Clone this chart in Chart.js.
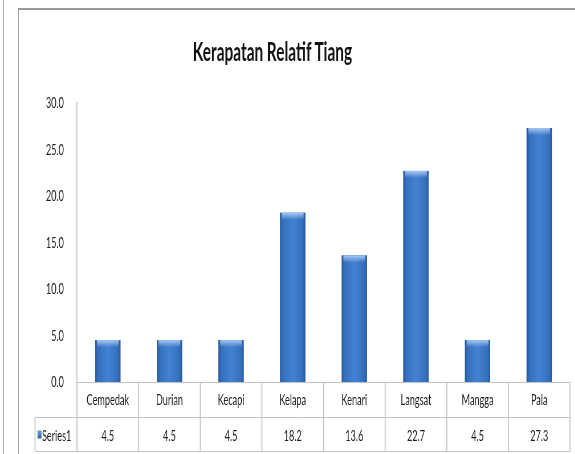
<!DOCTYPE html>
<html><head><meta charset="utf-8">
<script src="https://cdn.jsdelivr.net/npm/chart.js@4/dist/chart.umd.min.js"></script>
<style>
html,body{margin:0;padding:0;background:#fff;overflow:hidden;width:575px;height:454px;}
#outerLine{position:absolute;left:3px;top:0;width:1px;height:454px;background:#b4b4b4;}
#frame{position:absolute;left:18px;top:8px;width:570px;height:460px;border-left:1px solid #a0a0a0;border-top:2px solid #9a9a9a;box-sizing:border-box;}
#wrap{position:absolute;left:0;top:0;width:1009px;height:454px;transform:scaleX(0.57);transform-origin:0 0;}
#title{position:absolute;left:0;width:956px;top:34px;line-height:32px;text-align:center;font:bold 27px Lato, "DejaVu Sans", sans-serif;color:#141414;transform:scaleX(0.57);transform-origin:0 0;}
</style></head>
<body>
<div id="outerLine"></div>
<div id="frame"></div>
<div id="wrap">
  <canvas id="c"></canvas>
</div>
<div id="title">Kerapatan Relatif Tiang</div>
<script>
// ---- data ----
const categories = ['Cempedak','Durian','Kecapi','Kelapa','Kenari','Langsat','Mangga','Pala'];
const values = [4.5, 4.5, 4.5, 18.2, 13.6, 22.7, 4.5, 27.3];
const seriesName = 'Series1';
const yMin = 0, yMax = 30, yStep = 5;

// ---- layout (screen px -> internal px) ----
const S = 0.57;
const W = 1009;
const LEFT = 77 / S, RIGHT = 570 / S;
const FONT = 'Lato, "DejaVu Sans", sans-serif';
const TEXT = '#1e1e1e';
const LINE = '#c2c2c2';

const barStyle = {
  id: 'barStyle',
  afterDatasetsDraw(chart) {
    const ctx = chart.ctx;
    const meta = chart.getDatasetMeta(0);
    ctx.save();
    meta.data.forEach(bar => {
      const p = bar.getProps(['x', 'y', 'base', 'width'], true);
      const l = p.x - p.width / 2, r = p.x + p.width / 2;
      const g = ctx.createLinearGradient(l, 0, r, 0);
      g.addColorStop(0, '#2a5a9e');
      g.addColorStop(0.12, '#3670bd');
      g.addColorStop(0.5, '#4383d3');
      g.addColorStop(0.88, '#3670bd');
      g.addColorStop(1, '#2a5a9e');
      ctx.fillStyle = g;
      ctx.fillRect(l, p.y, p.width, p.base - p.y);
      const tg = ctx.createLinearGradient(0, p.y, 0, p.y + 7);
      tg.addColorStop(0, 'rgba(170,205,245,0.95)');
      tg.addColorStop(1, 'rgba(170,205,245,0)');
      ctx.fillStyle = tg;
      ctx.fillRect(l + 3, p.y, p.width - 6, 7);
    });
    ctx.restore();
  }
};

const dataTable = {
  id: 'dataTable',
  afterDraw(chart) {
    const ctx = chart.ctx;
    const a = chart.chartArea;
    const x = chart.scales.x;
    const n = categories.length;
    const colW = (a.right - a.left) / n;
    const r1 = Math.round(a.bottom) + 0.5, r2 = r1 + 35, r3 = r1 + 69;
    const labelLeft = a.left - 42 / S;
    ctx.save();
    ctx.strokeStyle = LINE;
    ctx.lineWidth = 1;
    ctx.beginPath();
    ctx.moveTo(a.left, r1); ctx.lineTo(a.right, r1);
    ctx.moveTo(labelLeft, r2); ctx.lineTo(a.right, r2);
    ctx.moveTo(labelLeft, r3); ctx.lineTo(a.right, r3);
    ctx.stroke();
    ctx.lineWidth = 1 / S;
    ctx.beginPath();
    for (let i = 0; i <= n; i++) {
      const xx = a.left + i * colW;
      ctx.moveTo(xx, r1); ctx.lineTo(xx, r3);
    }
    ctx.moveTo(labelLeft, r2); ctx.lineTo(labelLeft, r3);
    ctx.stroke();

    ctx.fillStyle = TEXT;
    ctx.font = '16px ' + FONT;
    ctx.textAlign = 'center';
    ctx.textBaseline = 'middle';
    categories.forEach((c, i) => {
      const cx = x.getPixelForValue(i);
      ctx.fillText(c, cx, (r1 + r2) / 2);
      ctx.fillText(values[i].toFixed(1), cx, (r2 + r3) / 2 + 1);
    });
    // legend key + series name
    const ky = (r2 + r3) / 2;
    const kg = ctx.createLinearGradient(0, ky - 4, 0, ky + 4);
    kg.addColorStop(0, '#6a9ee0'); kg.addColorStop(1, '#2d5fa6');
    ctx.fillStyle = kg;
    ctx.fillRect(labelLeft + 2.5 / S, ky - 4, 4 / S, 8);
    ctx.fillStyle = TEXT;
    ctx.textAlign = 'left';
    ctx.fillText(seriesName, labelLeft + 7 / S, ky + 1);
    ctx.restore();
  }
};

new Chart(document.getElementById('c'), {
  type: 'bar',
  data: {
    labels: categories,
    datasets: [{
      label: seriesName,
      data: values,
      backgroundColor: '#3a76c6',
      borderWidth: 0,
      categoryPercentage: 1,
      barPercentage: 0.41
    }]
  },
  options: {
    responsive: true,
    maintainAspectRatio: false,
    animation: false,
    layout: { padding: { left: 0, right: W - RIGHT, top: 103, bottom: 72 } },
    plugins: { legend: { display: false }, title: { display: false }, tooltip: { enabled: false } },
    scales: {
      x: { display: false, offset: true },
      y: {
        min: yMin, max: yMax,
        afterFit(scale) { scale.width = LEFT; },
        grid: { display: false },
        border: { display: true, color: LINE, width: 1 / S },
        ticks: {
          stepSize: yStep,
          padding: 15,
          color: TEXT,
          font: { family: FONT, size: 16 },
          callback: v => Number(v).toFixed(1)
        }
      }
    }
  },
  plugins: [barStyle, dataTable]
});
</script>
</body></html>
